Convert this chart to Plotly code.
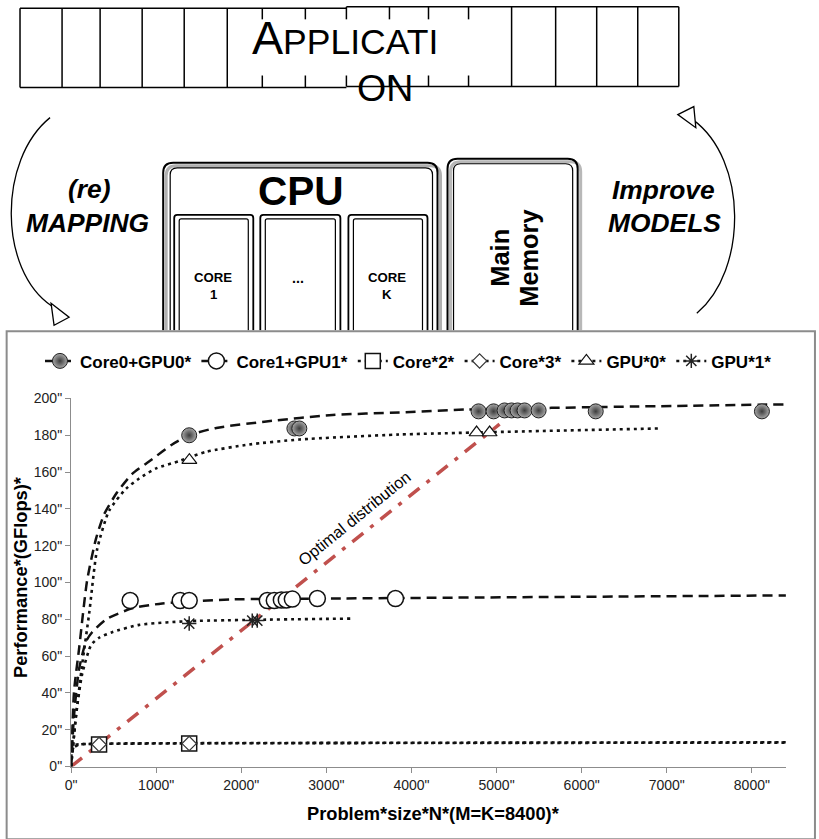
import plotly.graph_objects as go

W, H = 819, 839
# target picture pixel -> paper fraction (compensates the capture offset/scale)
SX, OX = 0.9915, 7.0
SY, OY = 0.978, 8.7
FS = 1.015
def X(px): return ((px - OX) / SX) / W
def Y(py): return 1 - ((py - OY) / SY) / H

# ---------------- data ----------------
x_ticks = [0, 1000, 2000, 3000, 4000, 5000, 6000, 7000, 8000]
x_ticktext = ['0"', '1000"', '2000"', '3000"', '4000"', '5000"', '6000"', '7000"', '8000"']
y_ticks = [0, 20, 40, 60, 80, 100, 120, 140, 160, 180, 200]
y_ticktext = ['0"', '20"', '40"', '60"', '80"', '100"', '120"', '140"', '160"', '180"', '200"']

# model curves
c0_curve_n = [0, 35, 94, 188, 294, 388, 541, 718, 953, 1188, 1388, 1706, 2294, 3071, 3859, 4647, 6600, 8400]
c0_curve_p = [0, 41, 64, 101, 124, 137, 149, 159, 167, 175, 180, 184, 187.5, 191, 192.4, 194, 195.6, 196.8]
c1_curve_n = [0, 35, 94, 176, 247, 412, 718, 1071, 1894, 3071, 8400]
c1_curve_p = [0, 28, 53, 68, 73, 80, 86, 88.6, 90.8, 91.3, 93]
g0_curve_n = [0, 59, 129, 212, 306, 447, 647, 800, 1000, 1271, 1588, 2094, 2682, 3859, 6918]
g0_curve_p = [0, 28, 55, 83, 118, 139, 151, 156.5, 162, 166, 171, 175, 177.7, 180.4, 183.7]
g1_curve_n = [0, 59, 129, 235, 329, 482, 800, 1388, 3294]
g1_curve_p = [0, 28, 50, 66, 70, 73, 77, 79, 80.4]
c2_curve_n = [0, 25, 100, 330, 1390, 8400]
c2_curve_p = [0, 10, 12, 12.3, 12.6, 13]
c3_curve_n = [0, 40, 200, 1390, 8400]
c3_curve_p = [5, 11.5, 12.3, 12.7, 13.2]

# measured points
c0_n = [1388, 2624, 2682, 4788, 4965, 5094, 5176, 5247, 5329, 5494, 6165, 8118]
c0_p = [180, 183.7, 183.7, 193, 193, 193.5, 193.5, 193.5, 193.5, 193.5, 193, 193]
c1_n = [694, 1282, 1388, 2306, 2388, 2471, 2529, 2600, 2894, 3812]
c1_p = [90.2, 90.2, 90.2, 90.2, 90.2, 90.5, 90.5, 91, 91.3, 91.3]
c2_n = [329, 1388]
c2_p = [12, 12.5]
c3_n = [329, 1388]
c3_p = [12, 12.5]
g0_n = [1390, 4765, 4918]
g0_p = [166.5, 181.5, 181.5]
g1_n = [1388, 2129, 2188]
g1_p = [77.7, 79.3, 79.3]

opt_n = [0, 5035]
opt_p = [0, 186]

names = ['Core0+GPU0*', 'Core1+GPU1*', 'Core*2*', 'Core*3*', 'GPU*0*', 'GPU*1*']

# ---------------- figure ----------------
fig = go.Figure()

DASH = '10px,6px'
DOT = '3px,4px'

def gaps(a):
    out = []
    for v in a:
        out += [v, None]
    return out

fig.add_trace(go.Scatter(x=opt_n, y=opt_p, mode='lines', showlegend=False,
                         line=dict(color='#c0504d', width=3.5, dash='14px,9px,4px,9px'),
                         hoverinfo='skip'))

curves = [
    (c0_curve_n, c0_curve_p, DASH, 2.5),
    (c1_curve_n, c1_curve_p, DASH, 2.5),
    (c2_curve_n, c2_curve_p, DOT, 2.6),
    (c3_curve_n, c3_curve_p, DOT, 2.6),
    (g0_curve_n, g0_curve_p, DOT, 2.6),
    (g1_curve_n, g1_curve_p, DOT, 2.6),
]
for cn, cp, d, w in curves:
    fig.add_trace(go.Scatter(x=cn, y=cp, mode='lines', showlegend=False,
                             line=dict(color='#111', width=w, dash=d, shape='spline', smoothing=0.6)))

markers = [
    (c0_n, c0_p, DASH, dict(symbol='circle', size=15, color='#a8a8a8',
                            gradient=dict(type='radial', color='#3c3c3c'),
                            line=dict(color='#222', width=1))),
    (c1_n, c1_p, DASH, dict(symbol='circle', size=16, color='white',
                            line=dict(color='#111', width=1.5))),
    (c2_n, c2_p, DOT, dict(symbol='square', size=15, color='white',
                           line=dict(color='#111', width=1.5))),
    (c3_n, c3_p, DOT, dict(symbol='diamond', size=11, color='white',
                           line=dict(color='#333', width=1.2))),
    (g0_n, g0_p, DOT, dict(symbol='triangle-up', size=13, color='white',
                           line=dict(color='#111', width=1.2))),
    (g1_n, g1_p, DOT, dict(symbol='asterisk-open', size=12, color='#222',
                           line=dict(color='#222', width=1.5))),
]
for (mn, mp, d, mk), nm in zip(markers, names):
    fig.add_trace(go.Scatter(x=gaps(mn), y=gaps(mp), mode='lines+markers', name=nm,
                             connectgaps=False, line=dict(color='#111', width=2.5, dash=d),
                             marker=mk))

# ---------------- shapes (diagram) ----------------
shapes = []
def line(x0, y0, x1, y1, w=1.5, c='black'):
    shapes.append(dict(type='line', xref='paper', yref='paper',
                       x0=X(x0), y0=Y(y0), x1=X(x1), y1=Y(y1),
                       line=dict(color=c, width=w), layer='above'))

def path(d, w=1.5, c='black', fill=None):
    s = dict(type='path', xref='paper', yref='paper', path=d,
             line=dict(color=c, width=w), layer='above')
    if fill:
        s['fillcolor'] = fill
    shapes.append(s)

def P(x, y):
    return f'{X(x):.5f},{Y(y):.5f}'

# application bar
line(21, 9, 347, 9); line(347, 7.5, 679, 7.5)
line(21, 88, 347, 88); line(347, 87, 679, 87)
for xx in [21, 63, 101, 143, 185, 228, 512, 556, 597, 638, 679]:
    top = 9 if xx < 347 else 7.5
    bot = 88 if xx < 347 else 87
    line(xx, top, xx, bot)
for xx in [263, 306, 347, 390, 429, 469]:
    top = 9 if xx < 347 else 7.5
    bot = 88 if xx < 347 else 87
    line(xx, top, xx, 20)
    line(xx, 76, xx, bot)

# arcs
path(f'M {P(51,118)} C {P(-1,160)} {P(-1,270)} {P(53,306)}', w=1.3)
path(f'M {P(52,303)} L {P(70,317)} L {P(55,325)} Z', w=1.3, fill='white')
path(f'M {P(693,120)} C {P(748,160)} {P(748,270)} {P(697,313)}', w=1.3)
path(f'M {P(678,115)} L {P(694,107)} L {P(696,128)} Z', w=1.3, fill='white')

def rrect(x0, y0, x1, y1, r, w=1.5, c='black'):
    d = (f'M {P(x0,y1)} L {P(x0,y0+r)} Q {P(x0,y0)} {P(x0+r,y0)} '
         f'L {P(x1-r,y0)} Q {P(x1,y0)} {P(x1,y0+r)} L {P(x1,y1)}')
    path(d, w=w, c=c)

BOT = 330
# CPU box with shadow
rrect(167, 166, 441, BOT, 10, w=3, c='#b0b0b0')
rrect(164, 163, 438, BOT, 10, w=2)
rrect(171, 168, 433, BOT, 7, w=1.2)
# core boxes
for x0, x1 in [(175, 254), (261, 341), (349, 428)]:
    rrect(x0, 215, x1, BOT, 3, w=1.8)
    rrect(x0 + 5, 219, x1 - 5, BOT, 2, w=1.2)
# main memory
rrect(451, 162, 581, BOT, 10, w=3, c='#b8b8b8')
rrect(448, 159, 578, BOT, 10, w=2)
rrect(454, 164, 573, BOT, 7, w=1.2)

# chart frame
shapes.append(dict(type='rect', xref='paper', yref='paper',
                   x0=0.0008, y0=-0.01, x1=X(815), y1=Y(331),
                   line=dict(color='#8c8c8c', width=2), layer='above'))

# ---------------- annotations ----------------
ann = []
FONT = 'Liberation Sans'
def T(x, base, text, size, family=FONT, weight='normal', style='normal',
      xanchor='center', color='black'):
    ann.append(dict(x=X(x), y=Y(base - 0.3465 * size), xref='paper', yref='paper',
                    text=text, showarrow=False, xanchor=xanchor, yanchor='middle',
                    borderpad=0, borderwidth=0,
                    font=dict(family=family, size=size * FS, color=color, weight=weight, style=style)))

def R(xc, yc, text, size, family=FONT, weight='bold', angle=-90):
    ann.append(dict(x=X(xc), y=Y(yc), xref='paper', yref='paper', text=text,
                    showarrow=False, xanchor='center', yanchor='middle', textangle=angle,
                    borderpad=0, borderwidth=0,
                    font=dict(family=family, size=size * FS, color='black', weight=weight)))

T(285, 55, 'A', 46, xanchor='right')
T(284, 55, 'PPLICATI', 35, xanchor='left')
T(386, 101, 'ON', 37)
T(302, 205, 'CPU', 40, weight='bold')
T(214, 282, 'CORE', 13, weight='bold')
T(214, 299, '1', 13, weight='bold')
T(388, 282, 'CORE', 13, weight='bold')
T(388, 299, 'K', 13, weight='bold')
T(299, 283, '...', 14, weight='bold')
R(500, 258, 'Main', 25)
R(529, 258, 'Memory', 25)
T(90, 198, '(re)', 26, weight='bold', style='italic')
T(88, 232, 'MAPPING', 26, weight='bold', style='italic')
T(664, 199, 'Improve', 26, weight='bold', style='italic')
T(665, 232, 'MODELS', 26, weight='bold', style='italic')

# axis titles
R(22, 576, 'Performance*(GFlops)*', 18)
T(434, 818, 'Problem*size*N*(M=K=8400)*', 18, weight='bold')

# optimal distribution label (data coords)
ann.append(dict(x=3329, y=134.8, xref='x', yref='y', text='Optimal distribution',
                showarrow=False, textangle=-39, xanchor='center', yanchor='middle',
                font=dict(family=FONT, size=16 * FS, color='black')))

fig.update_layout(
    width=W, height=H,
    margin=dict(l=0, r=0, t=0, b=0),
    paper_bgcolor='white', plot_bgcolor='rgba(0,0,0,0)',
    shapes=shapes, annotations=ann,
    showlegend=True,
    legend=dict(orientation='h', x=X(409), xanchor='center', y=Y(361), yanchor='middle',
                font=dict(family=FONT, size=17, color='black', weight='bold'),
                bgcolor='rgba(0,0,0,0)', itemwidth=30, tracegroupgap=0),
    xaxis=dict(domain=[X(72), X(786)], range=[0, 8400], showgrid=False, zeroline=False,
               showline=True, linecolor='#8c8c8c', linewidth=1.3,
               ticks='outside', ticklen=5, tickcolor='#8c8c8c',
               tickvals=x_ticks, ticktext=x_ticktext,
               tickfont=dict(family=FONT, size=14, color='#222')),
    yaxis=dict(domain=[Y(765), Y(398)], range=[0, 200], showgrid=False, zeroline=False,
               showline=True, linecolor='#8c8c8c', linewidth=1.3,
               ticks='outside', ticklen=5, tickcolor='#8c8c8c',
               tickvals=y_ticks, ticktext=y_ticktext,
               tickfont=dict(family=FONT, size=14, color='#222')),
)

fig.write_html('out.html',
               config={'displayModeBar': False},
               post_script="document.body.style.margin='0';"
                           "document.documentElement.style.overflow='hidden';"
                           "document.body.style.overflow='hidden';")
